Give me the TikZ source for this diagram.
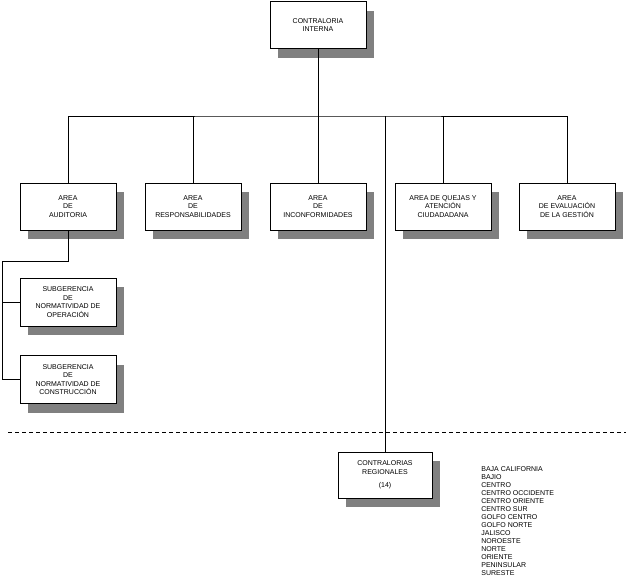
\documentclass[tikz,border=0pt]{standalone}
\usepackage{fontspec}
\setmainfont{Liberation Sans}
\usetikzlibrary{positioning,calc,shadows}
\definecolor{ink}{RGB}{0,0,0}
\definecolor{shade}{RGB}{128,128,128}
\tikzset{
  every picture/.style={color=ink, line width=0.8pt, font=\fontsize{7}{8.6}\selectfont},
  unit/.style={draw=ink, fill=white, line width=1pt, align=center, inner sep=2pt,
    minimum width=96pt, minimum height=47pt,
    drop shadow={shadow xshift=8pt, shadow yshift=-9pt, fill=shade, opacity=1}},
  link/.style={line width=0.8pt},
  cut/.style={line width=0.8pt, dash pattern=on 4pt off 3pt},
  lst/.style={align=left, inner sep=0pt, anchor=north west, font=\fontsize{7}{8}\selectfont},
}

\begin{document}
\begin{tikzpicture}[x=1pt, y=-1pt]
  \useasboundingbox (0,0) rectangle (626,579);
  % direccion
  \node[unit] (ci) at (318,25) {CONTRALORIA\\INTERNA};
  \coordinate (bus) at (318,116);
  % areas
  \node[unit] (aud) at (68,206.5) {AREA\\DE\\AUDITORIA};
  \node[unit] (res) at (193,206.5) {AREA\\DE\\RESPONSABILIDADES};
  \node[unit] (inc) at (318,206.5) {AREA\\DE\\INCONFORMIDADES};
  \node[unit] (que) at (443,206.5) {AREA DE QUEJAS Y\\ATENCIÓN\\CIUDADADANA};
  \node[unit] (eva) at (567,206.5) {AREA\\DE EVALUACIÓN\\DE LA GESTIÓN};
  % subgerencias
  \node[unit, minimum height=48pt] (sop) at (68,302) {SUBGERENCIA\\DE\\NORMATIVIDAD DE\\OPERACIÓN};
  \node[unit, minimum height=48pt] (scon) at (68,379.5) {SUBGERENCIA\\DE\\NORMATIVIDAD DE\\CONSTRUCCIÓN};
  \coordinate (elbow) at (2,261);
  % regionales
  \node[unit, minimum width=94pt, minimum height=46pt] (reg) at (385,475) {CONTRALORIAS\\REGIONALES\\[5pt](14)};
  \node[lst] (zonas) at (481,466) {BAJA CALIFORNIA\\BAJIO\\CENTRO\\CENTRO OCCIDENTE\\CENTRO ORIENTE\\CENTRO SUR\\GOLFO CENTRO\\GOLFO NORTE\\JALISCO\\NOROESTE\\NORTE\\ORIENTE\\PENINSULAR\\SURESTE};

  \draw[link] (ci) -- (bus);
  \draw[link] (aud.north) |- (bus) -| (eva.north);
  \foreach \n in {res,inc,que,reg}
    \draw[link] (\n.north) -- (\n.north |- bus);
  \draw[link] (aud.south) |- (elbow) |- (scon.west);
  \draw[link] (sop.west) -- (sop.west -| elbow);
  \draw[cut] (8,432) -- (626,432);
\end{tikzpicture}
\end{document}
